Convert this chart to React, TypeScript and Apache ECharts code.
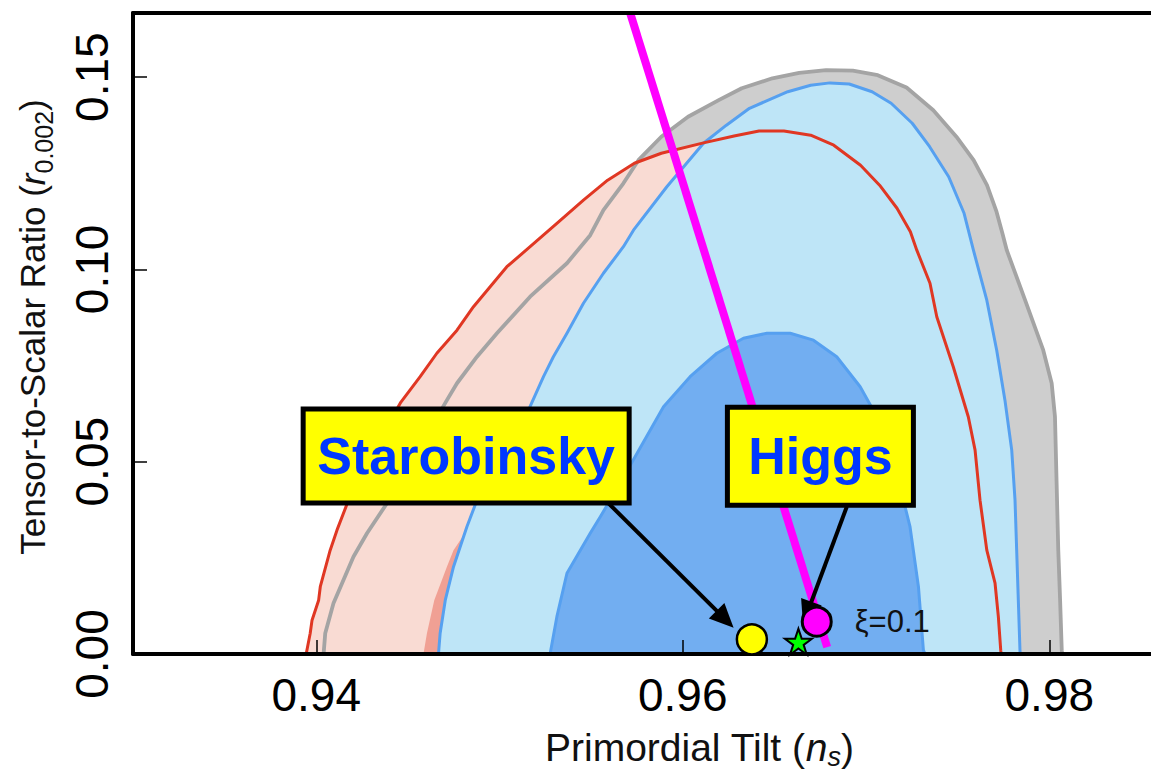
import React, { useEffect, useRef } from "react";
import * as echarts from "echarts";

// ---- axes ----
const nsRange = [0.93, 0.98555];
const rRange = [0, 0.16667];
const xTickValues = [0.94, 0.96, 0.98];
const yTickValues = [0, 0.05, 0.1, 0.15];

// ---- contours: [n_s, r] ----
const gray95 = [
  [0.9404, 0], [0.94049, 0.0054], [0.94094, 0.0132], [0.94203, 0.0253], [0.94277, 0.0314],
  [0.94386, 0.0392], [0.94713, 0.066], [0.94768, 0.0704], [0.94877, 0.0773], [0.94986, 0.0834],
  [0.95167, 0.0929], [0.95368, 0.1016], [0.95495, 0.1089], [0.95567, 0.1154], [0.95676, 0.1224],
  [0.95758, 0.1284], [0.95883, 0.1345], [0.96029, 0.1397], [0.96196, 0.144], [0.96322, 0.1471],
  [0.96489, 0.1497], [0.96635, 0.1511], [0.96782, 0.1518], [0.96928, 0.1517], [0.97064, 0.1505],
  [0.97221, 0.1473], [0.97367, 0.1414], [0.97493, 0.1345], [0.97587, 0.1284], [0.9766, 0.1219],
  [0.97712, 0.115], [0.97744, 0.1094], [0.97768, 0.105], [0.97868, 0.092], [0.97967, 0.079],
  [0.98013, 0.0704], [0.98031, 0.0617], [0.9804, 0.0444], [0.98049, 0.027], [0.98059, 0.014],
  [0.98068, 0.001], [0.9807, 0],
];
const red95 = [
  [0.93945, 0], [0.93967, 0.0054], [0.93977, 0.0088], [0.94013, 0.014], [0.94022, 0.0175],
  [0.94076, 0.027], [0.94113, 0.0322], [0.94176, 0.04], [0.94313, 0.053], [0.94462, 0.0655],
  [0.94567, 0.0721], [0.94658, 0.0782], [0.94768, 0.0842], [0.94858, 0.0903], [0.94949, 0.0955],
  [0.9504, 0.1007], [0.95167, 0.1059], [0.95313, 0.112], [0.95458, 0.118], [0.9559, 0.1232],
  [0.95736, 0.1276], [0.95883, 0.1302], [0.96113, 0.1329], [0.9628, 0.1347], [0.96416, 0.136],
  [0.96552, 0.136], [0.96698, 0.1349], [0.96824, 0.1323], [0.9697, 0.1271], [0.97074, 0.1219],
  [0.97169, 0.1159], [0.97242, 0.1098], [0.97277, 0.105], [0.97349, 0.0964], [0.97386, 0.0877],
  [0.97476, 0.0747], [0.97558, 0.0617], [0.97595, 0.053], [0.97622, 0.04], [0.97659, 0.027],
  [0.97704, 0.0184], [0.97722, 0.0097], [0.97735, 0.001], [0.97737, 0],
];
const red68 = [
  [0.94585, 0], [0.94604, 0.0054], [0.94644, 0.014], [0.94713, 0.0227], [0.94749, 0.027],
  [0.94822, 0.0322], [0.95004, 0.0478], [0.95331, 0.066], [0.95658, 0.0764], [0.96095, 0.0842],
  [0.96531, 0.0855], [0.96913, 0.079], [0.97186, 0.0608], [0.97404, 0.0348], [0.97513, 0.014],
  [0.97557, 0],
];
const blue95 = [
  [0.94667, 0], [0.94676, 0.0054], [0.94704, 0.014], [0.94749, 0.0227], [0.94822, 0.0331],
  [0.94877, 0.04], [0.94986, 0.053], [0.95158, 0.0634], [0.9524, 0.0721], [0.95294, 0.0773],
  [0.95368, 0.0834], [0.95458, 0.0912], [0.95567, 0.099], [0.95676, 0.1059], [0.95731, 0.1102],
  [0.95913, 0.1215], [0.96113, 0.1328], [0.96238, 0.1375], [0.96364, 0.1419], [0.96573, 0.1462],
  [0.96698, 0.1479], [0.96803, 0.1485], [0.96908, 0.1482], [0.97033, 0.1462], [0.97137, 0.1432],
  [0.97252, 0.138], [0.97347, 0.1319], [0.97451, 0.1241], [0.97535, 0.1146], [0.97586, 0.105],
  [0.97659, 0.092], [0.97713, 0.079], [0.97758, 0.066], [0.97795, 0.053], [0.97813, 0.04],
  [0.97822, 0.027], [0.97831, 0.014], [0.9784, 0.001], [0.97841, 0],
];
const blue68 = [
  [0.95276, 0], [0.95313, 0.0097], [0.95368, 0.021], [0.95495, 0.0314], [0.9555, 0.0357],
  [0.95604, 0.04], [0.95729, 0.0504], [0.95895, 0.0643], [0.9604, 0.0721], [0.96186, 0.0782],
  [0.96331, 0.0821], [0.96459, 0.0834], [0.96586, 0.0834], [0.96713, 0.0816], [0.9684, 0.0773],
  [0.96968, 0.0695], [0.97059, 0.0617], [0.97168, 0.0478], [0.97204, 0.04], [0.9724, 0.0331],
  [0.97286, 0.0175], [0.97313, 0.001], [0.97322, 0],
];
const higgsTrack = [[0.95713, 0.16667], [0.96788, 0.0018]];

// ---- model points ----
const markerNames = ["Starobinsky", "Higgs", "Star"];
const markerPoints = [[0.96377, 0.00382], [0.96731, 0.0084], [0.96631, 0.0032]];
const higgsXiLabel = "ξ=0.1";

// ---- annotations ----
const boxLabels = ["Starobinsky", "Higgs"];
const boxPoints = [[0.94818, 0.0515], [0.96751, 0.0514]];
const arrowStarts = [[0.95567, 0.0405], [0.96895, 0.0383]];
const arrowEnds = [[0.96231, 0.00905], [0.96679, 0.01066]];

// ---- styles ----
const BOX_SIZES = [[321, 89], [181, 93]];
const STAR_PATH =
  "path://M50,0 L61.8,35.3 L97.6,35.3 L68.5,56.7 L79.4,91 L50,69.5 L20.6,91 L31.5,56.7 L2.4,35.3 L38.2,35.3 Z";
const FONT = "Liberation Sans";

function fillSeries(name: string, data: number[][], color: string) {
  return {
    name,
    type: "line",
    data,
    symbol: "none",
    silent: true,
    z: 2,
    lineStyle: { width: 0, opacity: 0 },
    areaStyle: { color, opacity: 1, origin: "start" },
  };
}
function lineSeries(name: string, data: number[][], color: string, width: number, area?: string) {
  const s: any = {
    name,
    type: "line",
    data,
    symbol: "none",
    silent: true,
    z: 2,
    lineStyle: { color, width, cap: "butt", join: "round" },
  };
  if (area) s.areaStyle = { color: area, opacity: 1, origin: "start" };
  return s;
}

export default function App() {
  const ref = useRef<HTMLDivElement>(null);
  useEffect(() => {
    if (!ref.current) return;
    const chart = echarts.init(ref.current, null, { renderer: "svg" });
    const tickFmt = (v: number) => v.toFixed(2);
    const option: any = {
      animation: false,
      backgroundColor: "#ffffff",
      grid: { left: 133, right: 0, top: 13, bottom: 117, outerBoundsMode: "none", containLabel: false },
      xAxis: [
        {
          type: "value",
          min: nsRange[0],
          max: nsRange[1],
          position: "bottom",
          z: 4,
          axisLine: { show: true, onZero: false, lineStyle: { color: "#000", width: 4 } },
          axisTick: { show: true, inside: true, length: 14, customValues: xTickValues, lineStyle: { color: "#000", width: 1.5 } },
          axisLabel: { show: true, customValues: xTickValues, formatter: tickFmt, fontFamily: FONT, fontSize: 46, color: "#000", margin: 18 },
          splitLine: { show: false },
        },
        {
          type: "value",
          min: nsRange[0],
          max: nsRange[1],
          position: "top",
          z: 4,
          axisLine: { show: true, onZero: false, lineStyle: { color: "#000", width: 4 } },
          axisTick: { show: false },
          axisLabel: { show: false },
          splitLine: { show: false },
        },
      ],
      yAxis: {
        type: "value",
        min: rRange[0],
        max: rRange[1],
        z: 4,
        axisLine: { show: true, onZero: false, lineStyle: { color: "#000", width: 4 } },
        axisTick: { show: true, inside: true, length: 14, customValues: yTickValues, lineStyle: { color: "#000", width: 1.5 } },
        axisLabel: { show: true, customValues: yTickValues, formatter: tickFmt, rotate: 90, fontFamily: FONT, fontSize: 46, color: "#000", margin: 18 },
        splitLine: { show: false },
      },
      graphic: [
        {
          type: "text",
          x: 545,
          y: 747,
          z: 100,
          style: {
            text: "Primordial Tilt ({i|n}{sub|s})",
            fontFamily: FONT,
            fontSize: 39,
            lineHeight: 46,
            fill: "#111",
            align: "left",
            verticalAlign: "middle",
            rich: {
              i: { fontFamily: FONT, fontSize: 39, fontStyle: "italic", lineHeight: 46, fill: "#111" },
              sub: { fontFamily: FONT, fontSize: 27, fontStyle: "italic", lineHeight: 27, verticalAlign: "bottom", fill: "#111" },
            },
          },
        },
        {
          type: "text",
          x: 32,
          y: 327,
          rotation: Math.PI / 2,
          z: 100,
          style: {
            text: "Tensor-to-Scalar Ratio ({i|r}{sub|0.002})",
            fontFamily: FONT,
            fontSize: 35,
            lineHeight: 48,
            fill: "#111",
            align: "center",
            verticalAlign: "middle",
            rich: {
              i: { fontFamily: FONT, fontSize: 35, fontStyle: "italic", lineHeight: 48, fill: "#111" },
              sub: { fontFamily: FONT, fontSize: 25, lineHeight: 25, verticalAlign: "bottom", fill: "#111" },
            },
          },
        },
      ],
      series: [
        fillSeries("gray95fill", gray95, "#cecece"),
        fillSeries("red95fill", red95, "#f9dbd3"),
        fillSeries("red68fill", red68, "#f0a094"),
        lineSeries("gray95line", gray95, "#a4a4a4", 3.8),
        lineSeries("blue95", blue95, "#56a0f0", 3, "#bee5f7"),
        lineSeries("blue68", blue68, "#56a0f0", 3, "#72aef1"),
        lineSeries("red95line", red95, "#e03723", 3),
        lineSeries("higgsTrack", higgsTrack, "#ff00ff", 8),
        {
          name: "models",
          type: "scatter",
          z: 6,
          clip: false,
          silent: true,
          itemStyle: { opacity: 1 },
          data: markerPoints.map((p, i) => {
            const base: any = { name: markerNames[i], value: p };
            if (i === 0) {
              base.symbol = "circle";
              base.symbolSize = 30;
              base.itemStyle = { color: "#ffff00", borderColor: "#000", borderWidth: 2.5, opacity: 1 };
            } else if (i === 1) {
              base.symbol = "circle";
              base.symbolSize = 29;
              base.itemStyle = { color: "#ff00ff", borderColor: "#000", borderWidth: 3, opacity: 1 };
              base.label = {
                show: true,
                position: "right",
                distance: 22,
                formatter: higgsXiLabel,
                fontFamily: FONT,
                fontSize: 31,
                color: "#111",
                opacity: 1,
              };
            } else {
              base.symbol = STAR_PATH;
              base.symbolSize = [27, 26];
              base.itemStyle = { color: "#00ff00", borderColor: "#000", borderWidth: 2, opacity: 1 };
            }
            return base;
          }),
        },
        {
          name: "arrows",
          type: "scatter",
          z: 7,
          data: [],
          silent: true,
          markLine: {
            silent: true,
            symbol: ["none", "triangle"],
            symbolSize: [22, 24],
            label: { show: false },
            lineStyle: { color: "#000", width: 4, type: "solid", opacity: 1 },
            itemStyle: { color: "#000", opacity: 1 },
            emphasis: { disabled: true },
            data: arrowStarts.map((s, i) => [{ coord: s }, { coord: arrowEnds[i] }]),
          },
        },
        {
          name: "boxes",
          type: "scatter",
          z: 8,
          clip: false,
          silent: true,
          symbolSize: 1,
          itemStyle: { color: "rgba(0,0,0,0)", opacity: 1 },
          data: boxPoints.map((p, i) => ({
            name: boxLabels[i],
            value: p,
            label: { width: BOX_SIZES[i][0], height: BOX_SIZES[i][1], lineHeight: BOX_SIZES[i][1] },
          })),
          label: {
            show: true,
            position: "inside",
            formatter: "{b}",
            fontFamily: FONT,
            fontWeight: "bold",
            fontSize: 52,
            color: "#0038ff",
            backgroundColor: "#ffff00",
            borderColor: "#000",
            borderWidth: 5,
            opacity: 1,
            align: "center",
            verticalAlign: "middle",
          },
        },
      ],
    };
    chart.setOption(option);
    return () => chart.dispose();
  }, []);
  return <div ref={ref} style={{ position: "fixed", left: 0, top: 0, width: 1151, height: 771 }} />;
}
